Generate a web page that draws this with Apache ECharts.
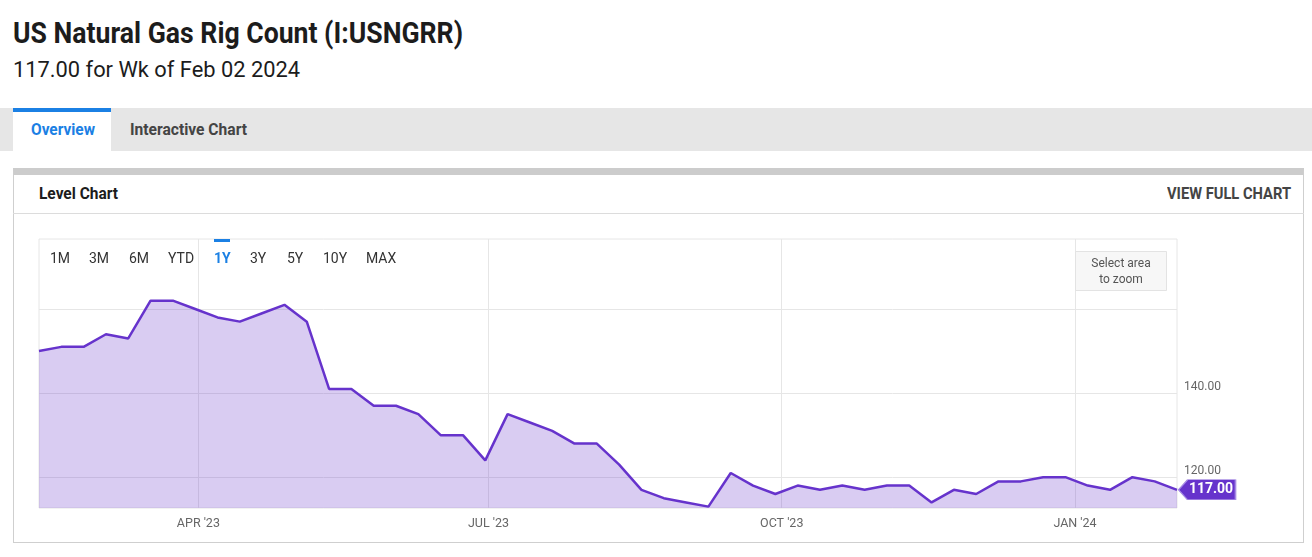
<!DOCTYPE html>
<html>
<head>
<meta charset="utf-8">
<script src="https://cdn.jsdelivr.net/npm/echarts@6/dist/echarts.min.js"></script>
<style>
html, body { margin:0; padding:0; background:#fff; width:1312px; height:557px; overflow:hidden; font-family: Roboto, "Noto Sans", sans-serif; }
.t { position:absolute; white-space:nowrap; transform-origin:0 0; line-height:1; }
#title { left:13px; top:18px; font-size:30px; font-weight:700; color:#1c1c1c; }
#subtitle { left:13px; top:58.8px; font-size:22px; font-weight:400; color:#1c1c1c; }
#tabbar { position:absolute; left:0; top:108px; width:1312px; height:43px; background:#e6e6e6; }
#tabActive { position:absolute; left:13px; top:108px; width:98px; height:43px; background:#fff; }
#tabActiveBar { position:absolute; left:13px; top:108px; width:98px; height:4px; background:#1b80e4; }
#tab1 { left:31px; top:121px; font-size:17px; font-weight:700; color:#1b80e4; }
#tab2 { left:130px; top:121px; font-size:17px; font-weight:700; color:#444; }
#card { position:absolute; left:13px; top:168px; width:1291px; height:375px; box-sizing:border-box; border:1px solid #cfcfcf; border-top:7px solid #cccccc; }
#divider { position:absolute; left:13px; top:213px; width:1291px; height:1px; background:#dcdcdc; }
#cardTitle { left:39px; top:186px; font-size:16px; font-weight:700; color:#1c1c1c; }
#viewFull { left:1167px; top:185.5px; font-size:16px; font-weight:700; color:#444; }
#chart { position:absolute; left:0; top:0; width:1312px; height:557px; }
</style>
</head>
<body>
<div class="t" id="title">US Natural Gas Rig Count (I:USNGRR)</div>
<div class="t" id="subtitle">117.00 for Wk of Feb 02 2024</div>
<div id="tabbar"></div>
<div id="tabActive"></div>
<div id="tabActiveBar"></div>
<div class="t" id="tab1">Overview</div>
<div class="t" id="tab2">Interactive Chart</div>
<div id="card"></div>
<div id="divider"></div>
<div class="t" id="cardTitle">Level Chart</div>
<div class="t" id="viewFull">VIEW FULL CHART</div>
<div id="chart"></div>
<script>
// ---------------- data ----------------
const weekDates = [
  '2023-02-10','2023-02-17','2023-02-24',
  '2023-03-03','2023-03-10','2023-03-17','2023-03-24','2023-03-31',
  '2023-04-07','2023-04-14','2023-04-21','2023-04-28',
  '2023-05-05','2023-05-12','2023-05-19','2023-05-26',
  '2023-06-02','2023-06-09','2023-06-16','2023-06-23','2023-06-30',
  '2023-07-07','2023-07-14','2023-07-21','2023-07-28',
  '2023-08-04','2023-08-11','2023-08-18','2023-08-25',
  '2023-09-01','2023-09-08','2023-09-15','2023-09-22','2023-09-29',
  '2023-10-06','2023-10-13','2023-10-20','2023-10-27',
  '2023-11-03','2023-11-10','2023-11-17','2023-11-24',
  '2023-12-01','2023-12-08','2023-12-15','2023-12-22','2023-12-29',
  '2024-01-05','2024-01-12','2024-01-19','2024-01-26',
  '2024-02-02'
];
const rigCounts = [
  150,151,151,
  154,153,162,162,160,
  158,157,159,161,
  157,141,141,137,
  137,135,130,130,124,
  135,133,131,128,
  128,123,117,115,
  114,113,121,118,116,
  118,117,118,117,
  118,118,114,117,
  116,119,119,120,120,
  118,117,120,119,
  117
];
const xTickDates = ['2023-04-01','2023-07-01','2023-10-01','2024-01-01'];
const xTickLabels = ["APR '23","JUL '23","OCT '23","JAN '24"];
const yGridValues = [120,140,160];
const yTickValues = [120,140];
const yTickLabels = ['120.00','140.00'];
const rangeButtons = ['1M','3M','6M','YTD','1Y','3Y','5Y','10Y','MAX'];
const selectedRange = '1Y';

// ---------------- layout helpers ----------------
function fitWidth(id, w) {
  const el = document.getElementById(id);
  const nw = el.getBoundingClientRect().width;
  if (nw > 0) el.style.transform = 'scaleX(' + (w / nw) + ')';
}
fitWidth('title', 450);
fitWidth('subtitle', 287);
fitWidth('tab1', 64);
fitWidth('tab2', 117);
fitWidth('cardTitle', 79);
fitWidth('viewFull', 124);

const LINE = '#6633cc';
const FONT = 'Roboto';
const rangeButtonX = [50, 89, 129, 168, 214, 250, 287, 323, 366];

function parseDay(s) { const p = s.split('-').map(Number); return Date.UTC(p[0], p[1]-1, p[2]); }
const weekTimes = weekDates.map(parseDay);
const xTickTimes = xTickDates.map(parseDay);
function xLabel(v) {
  let best = -1, bd = Infinity;
  xTickTimes.forEach((t, i) => { const d = Math.abs(t - v); if (d < bd) { bd = d; best = i; } });
  return (best >= 0 && bd < 3 * 86400000) ? xTickLabels[best] : '';
}
function yLabel(v) {
  const i = yTickValues.indexOf(Math.round(v));
  return i >= 0 ? yTickLabels[i] : '';
}

const graphics = [];
rangeButtons.forEach((b, i) => {
  const sel = b === selectedRange;
  graphics.push({
    type: 'text', x: rangeButtonX[i], y: 259, z: 100,
    style: { text: b, font: (sel ? 'bold ' : '') + '14px ' + FONT, fill: sel ? '#1b80e4' : '#333',
             align: 'left', verticalAlign: 'middle' }
  });
  if (sel) {
    graphics.push({ type: 'rect', z: 100, shape: { x: rangeButtonX[i], y: 239, width: 16, height: 3 }, style: { fill: '#1b80e4' } });
  }
});
graphics.push({ type: 'rect', z: 100, shape: { x: 1075.5, y: 251.5, width: 91, height: 39 }, style: { fill: '#f7f7f7', stroke: '#e3e3e3', lineWidth: 1 } });
graphics.push({ type: 'text', z: 101, x: 1121, y: 264, style: { text: 'Select area', font: '12px ' + FONT, fill: '#555', align: 'center', verticalAlign: 'middle' } });
graphics.push({ type: 'text', z: 101, x: 1121, y: 279.5, style: { text: 'to zoom', font: '12px ' + FONT, fill: '#555', align: 'center', verticalAlign: 'middle' } });

const lastIdx = rigCounts.length - 1;

const chart = echarts.init(document.getElementById('chart'), null, { renderer: 'canvas' });
chart.setOption({
  animation: false,
  backgroundColor: 'transparent',
  grid: { left: 39, top: 239, right: 135, bottom: 49, show: true, borderColor: '#e6e6e6', borderWidth: 1, backgroundColor: 'transparent', containLabel: false },
  xAxis: {
    type: 'value', min: 'dataMin', max: 'dataMax', scale: true,
    axisLine: { show: false },
    axisTick: { show: false, customValues: xTickTimes },
    splitLine: { show: true, lineStyle: { color: '#e6e6e6', width: 1 } },
    axisLabel: { customValues: xTickTimes, formatter: v => xLabel(v), color: '#666', fontSize: 12.5, fontFamily: FONT, margin: 9, hideOverlap: false }
  },
  yAxis: {
    type: 'value', position: 'right', min: 112.67, max: 176.66, scale: true,
    axisLine: { show: false },
    axisTick: { show: false, customValues: yGridValues },
    splitLine: { show: true, lineStyle: { color: '#e6e6e6', width: 1 } },
    axisLabel: { customValues: yTickValues, formatter: v => yLabel(v), color: '#666', fontSize: 12, fontFamily: FONT, margin: 7, verticalAlign: 'bottom' }
  },
  graphic: graphics,
  series: [{
    type: 'line',
    data: weekTimes.map((t, i) => [t, rigCounts[i]]),
    symbol: 'none', showSymbol: false, clip: false,
    lineStyle: { color: LINE, width: 2.5 },
    itemStyle: { color: LINE },
    areaStyle: { color: 'rgba(102,51,204,0.25)', opacity: 1, origin: 'start' },
    markPoint: {
      silent: true,
      symbol: 'path://M0,10 L9,0 L57,0 L57,20 L9,20 Z',
      symbolSize: [57, 20],
      symbolKeepAspect: false,
      symbolOffset: [30, 0],
      itemStyle: { color: '#6633cc', borderColor: '#a58ae4', borderWidth: 1 },
      label: { show: true, position: 'inside', offset: [4, 0], color: '#fff', fontWeight: 'bold', fontSize: 14, fontFamily: FONT,
               formatter: p => Number(p.value).toFixed(2) },
      data: [{ coord: [weekTimes[lastIdx], rigCounts[lastIdx]], value: rigCounts[lastIdx] }]
    }
  }]
});
</script>
</body>
</html>
